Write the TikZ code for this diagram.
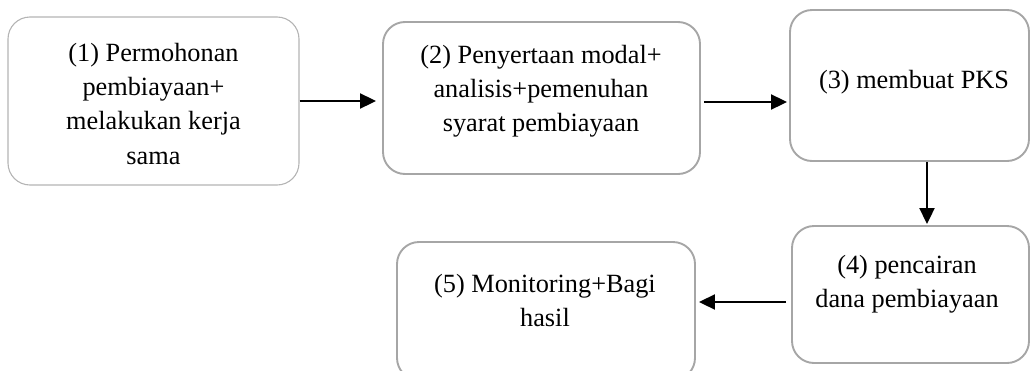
\documentclass[tikz,border=0pt]{standalone}
\usepackage{fontspec}
\setmainfont{Liberation Serif}
\usetikzlibrary{arrows.meta}
\definecolor{boxgray}{HTML}{A6A6A6}
\definecolor{lightgray}{HTML}{B4B4B4}
\begin{document}
\begin{tikzpicture}[x=1pt,y=-1pt,
  stepbox/.style={draw=boxgray, line width=1.9pt, rounded corners=22pt, inner sep=0pt},
  firstbox/.style={stepbox, draw=lightgray, line width=1.1pt},
  steptext/.style={align=center, inner sep=0pt, font=\fontsize{26.3}{34}\selectfont},
  flow/.style={line width=2pt, -{Triangle[length=16pt,width=15pt]}}
]
\useasboundingbox (0,0) rectangle (1030,370);
\clip (0,0) rectangle (1030,370);

% boxes
\node[firstbox, minimum width=291pt, minimum height=168pt] (b1) at (153.5,101) {};
\node[stepbox, minimum width=317pt, minimum height=152pt] (b2) at (541.5,98) {};
\node[stepbox, minimum width=239pt, minimum height=151pt] (b3) at (909.5,85.5) {};
\node[stepbox, minimum width=237pt, minimum height=137pt] (b4) at (910.5,294.5) {};
\node[stepbox, minimum width=298pt, minimum height=138pt] (b5) at (546,311) {};

% labels
\node[steptext] (t1) at (153.5,104) {(1) Permohonan\\pembiayaan+\\melakukan kerja\\sama};
\node[steptext] (t2) at (541,91.5) {(2) Penyertaan modal+\\analisis+pemenuhan\\syarat pembiayaan};
\node[steptext] (t3) at (914,82) {(3) membuat PKS};
\node[steptext] (t4) at (907,284) {(4) pencairan\\dana pembiayaan};
\node[steptext] (t5) at (545,300) {(5) Monitoring+Bagi\\hasil};

% connectors
\coordinate (a2s) at ([shift={(3,4)}]b2.east);
\coordinate (a3s) at ([shift={(17.5,0)}]b3.south);
\coordinate (a4s) at ([shift={(-5,7.5)}]b4.west);

\draw[flow, shorten >=6pt] (b1.east) -- (b1.east -| b2.west);
\draw[flow, shorten >=2pt] (a2s) -- (a2s -| b3.west);
\draw[flow, shorten >=1pt] (a3s) -- (a3s |- b4.north);
\draw[flow, shorten >=3pt] (a4s) -- (a4s -| b5.east);
\end{tikzpicture}
\end{document}
